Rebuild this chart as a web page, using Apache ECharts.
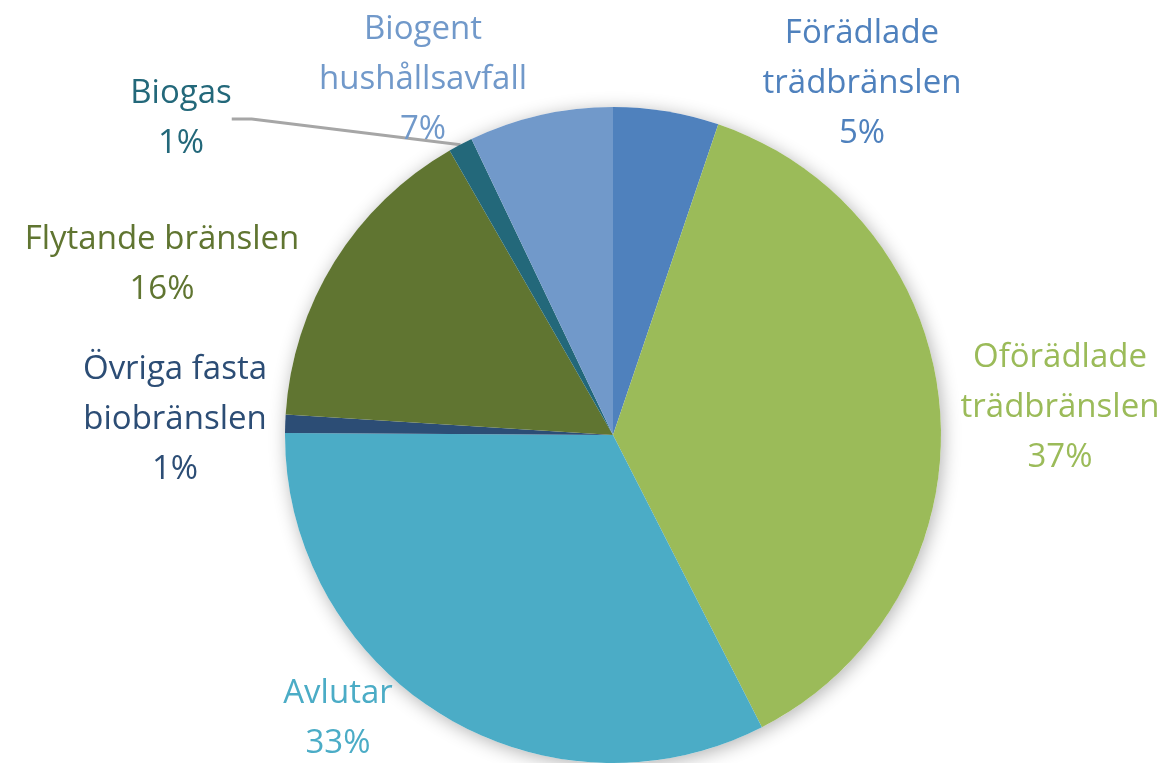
<!DOCTYPE html>
<html>
<head>
<meta charset="utf-8">
<script src="https://cdn.jsdelivr.net/npm/echarts@6/dist/echarts.min.js"></script>
<style>
  html, body { margin: 0; padding: 0; background: #fff; }
  #chart { width: 1169px; height: 763px; }
</style>
</head>
<body>
<div id="chart"></div>
<script>
// slices, clockwise from 12 o'clock
var categories = [
  'Förädlade\nträdbränslen',
  'Oförädlade\nträdbränslen',
  'Avlutar',
  'Övriga fasta\nbiobränslen',
  'Flytande bränslen',
  'Biogas',
  'Biogent\nhushållsavfall'
]
var shares = [5.2, 37.3, 32.6, 0.9, 15.7, 1.2, 7.1]
var colors = ['#4f81bd', '#9bbb59', '#4bacc6', '#2c4d75', '#607531', '#23687a', '#7199ca']

// label centre points (text block), px
var labelPos = [
  [862, 84], [1060, 408], [338, 719], [175, 420], [162, 265], [181, 119], [423, 80]
]

var chart = echarts.init(document.getElementById('chart'))

var option = {
  animation: false,
  series: [
    {
      // soft shadow under the whole pie
      type: 'pie',
      silent: true,
      center: [613, 435],
      radius: 328,
      z: 1,
      label: { show: false },
      labelLine: { show: false },
      itemStyle: {
        color: '#ffffff',
        shadowBlur: 18,
        shadowColor: 'rgba(0,0,0,0.3)',
        shadowOffsetX: 2,
        shadowOffsetY: 3
      },
      data: [1]
    },
    {
      type: 'pie',
      z: 2,
      center: [613, 435],
      radius: 328,
      startAngle: 90,
      clockwise: true,
      avoidLabelOverlap: false,
      itemStyle: { borderWidth: 0 },
      label: {
        show: true,
        position: 'outside',
        fontFamily: 'Open Sans',
        fontSize: 33,
        lineHeight: 50,
        align: 'center',
        formatter: function (p) {
          return p.name + '\n' + Math.round(p.percent) + '%'
        }
      },
      labelLine: { show: false },
      labelLayout: function (p) {
        var pos = labelPos[p.dataIndex]
        return { x: pos[0], y: pos[1], align: 'center', verticalAlign: 'middle' }
      },
      emphasis: { disabled: true },
      data: categories.map(function (name, i) {
        var item = {
          name: name,
          value: shares[i],
          itemStyle: { color: colors[i] },
          label: { color: colors[i] }
        }
        if (name === 'Biogas') {
          item.labelLine = {
            show: true,
            length: 10,
            length2: 20,
            lineStyle: { color: '#a6a6a6', width: 3 }
          }
        }
        return item
      })
    }
  ]
}

chart.setOption(option)
</script>
</body>
</html>
